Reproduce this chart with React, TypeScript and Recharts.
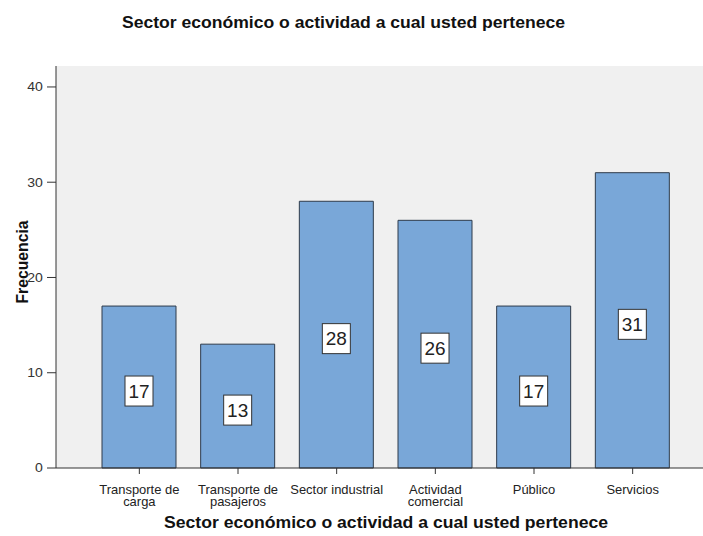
import React from 'react';
import {
    BarChart, Bar, XAxis, YAxis, CartesianGrid, LabelList, Label
} from 'recharts';

const categories = [
    'Transporte de\ncarga',
    'Transporte de\npasajeros',
    'Sector industrial',
    'Actividad\ncomercial',
    'Público',
    'Servicios',
];
const frequencies = [17, 13, 28, 26, 17, 31];
const yTicks = [0, 10, 20, 30, 40];

const title = 'Sector económico o actividad a cual usted pertenece';
const FONT = '"Liberation Sans", Arial, sans-serif';

const data = categories.map((name, i) => ({ name, value: frequencies[i] }));

// reference text is slightly wider than Arial, stretch it a bit
const SX = 1.08;

const CategoryTick = (props: any) => {
    const { x, y, payload } = props;
    const lines = String(payload.value).split('\n');
    return (
        <g transform={`translate(${x},${y}) scale(${SX},1)`}>
            {lines.map((line: string, i: number) => (
                <text
                    key={i}
                    x={0}
                    y={18 + i * 12}
                    textAnchor="middle"
                    fontSize={12}
                    fontFamily={FONT}
                    fill="#222"
                >
                    {line}
                </text>
            ))}
        </g>
    );
};

const ValueTick = (props: any) => {
    const { x, y, payload } = props;
    return (
        <g transform={`translate(${x},${y}) scale(${SX},1)`}>
            <text x={-2} y={0} textAnchor="end" dominantBaseline="central" fontSize={13} fontFamily={FONT} fill="#333">
                {payload.value}
            </text>
        </g>
    );
};

const ValueBox = (props: any) => {
    const { x, y, width, height, value } = props;
    const cx = x + width / 2;
    const cy = y + height / 2 + 4;
    const w = String(value).length * 10 + 8;
    return (
        <g>
            <rect x={cx - w / 2} y={cy - 15} width={w} height={30} fill="#fff" stroke="#333" strokeWidth={1} />
            <text x={cx} y={cy} textAnchor="middle" dominantBaseline="central" fontSize={19} fontFamily={FONT} fill="#222">
                {value}
            </text>
        </g>
    );
};

export default function App() {
    return (
        <div style={{ position: 'fixed', left: 0, top: 0, width: 703, height: 536, overflow: 'hidden', background: '#fff' }}>
            <svg width={703} height={40} style={{ position: 'absolute', left: 0, top: 0 }}>
                <text
                    x={343.5}
                    y={27.5}
                    textAnchor="middle"
                    fontSize={16}
                    fontWeight="bold"
                    fontFamily={FONT}
                    fill="#111"
                    textLength={443}
                    lengthAdjust="spacingAndGlyphs"
                >
                    {title}
                </text>
            </svg>
            <div style={{ position: 'absolute', left: 0, top: 0 }}>
                <BarChart
                    width={720}
                    height={536}
                    data={data}
                    margin={{ top: 66, right: 4, left: 0, bottom: 0 }}
                    barSize={74}
                >
                    <CartesianGrid horizontal={false} vertical={false} fill="#f0f0f0" />
                    <XAxis
                        dataKey="name"
                        height={68}
                        padding={{ left: 34, right: 34 }}
                        interval={0}
                        tick={<CategoryTick />}
                        tickSize={6}
                        tickLine={{ stroke: '#333' }}
                        axisLine={{ stroke: '#333' }}
                    >
                        <Label
                            content={(p: any) => (
                                <text
                                    x={p.viewBox.x + p.viewBox.width / 2}
                                    y={528}
                                    textAnchor="middle"
                                    fontSize={16}
                                    fontWeight="bold"
                                    fontFamily={FONT}
                                    fill="#111"
                                    textLength={444}
                                    lengthAdjust="spacingAndGlyphs"
                                >
                                    {title}
                                </text>
                            )}
                        />
                    </XAxis>
                    <XAxis xAxisId="top" orientation="top" height={0} tick={false} tickLine={false} axisLine={{ stroke: '#555' }} />
                    <YAxis
                        width={56}
                        domain={[0, 42.2]}
                        ticks={yTicks}
                        tickSize={9}
                        tick={<ValueTick />}
                        tickLine={{ stroke: '#333' }}
                        axisLine={{ stroke: '#333' }}
                    >
                        <Label
                            content={(p: any) => {
                                const cy = p.viewBox.y + p.viewBox.height / 2 - 5;
                                return (
                                    <text
                                        x={22}
                                        y={cy}
                                        transform={`rotate(-90, 22, ${cy})`}
                                        textAnchor="middle"
                                        dominantBaseline="central"
                                        fontSize={16}
                                        fontWeight="bold"
                                        fontFamily={FONT}
                                        fill="#111"
                                        textLength={83}
                                        lengthAdjust="spacingAndGlyphs"
                                    >
                                        Frecuencia
                                    </text>
                                );
                            }}
                        />
                    </YAxis>
                    <Bar dataKey="value" fill="#79a7d8" stroke="#2e3b4b" strokeWidth={1} isAnimationActive={false}>
                        <LabelList dataKey="value" content={<ValueBox />} />
                    </Bar>
                </BarChart>
            </div>
        </div>
    );
}
